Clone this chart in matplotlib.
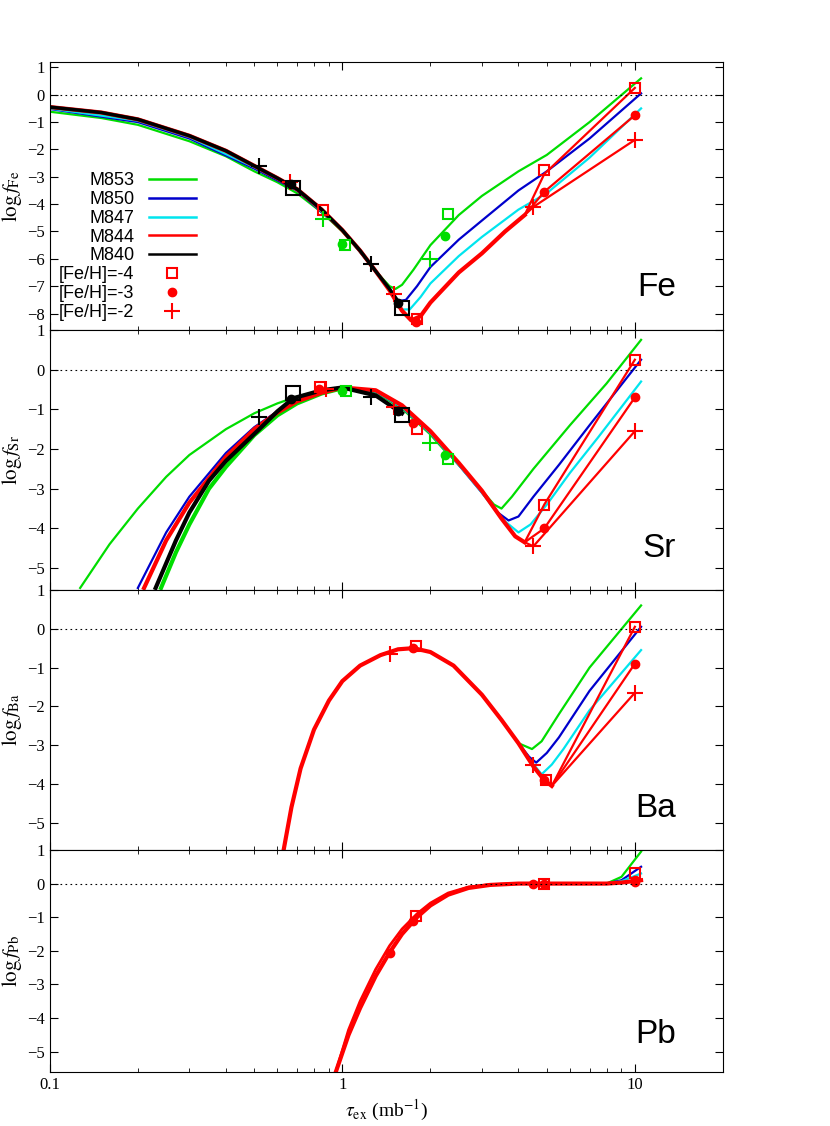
import numpy as np
import matplotlib
matplotlib.use('Agg')
import matplotlib.pyplot as plt
from matplotlib.ticker import LogLocator, FixedLocator, NullFormatter, FixedFormatter

plt.rcParams.update({'font.family': 'Liberation Serif', 'font.size': 12,
                     'mathtext.fontset': 'stix',
                     'xtick.direction': 'in', 'ytick.direction': 'in',
                     'xtick.top': True, 'ytick.right': True})

GREEN, BLUE, CYAN, RED, BLACK = '#00dd00', '#0000cc', '#00e5ee', '#ff0000', '#000000'

# ---------------- Fe ----------------
fe_black_x = [0.1, 0.15, 0.2, 0.3, 0.4, 0.5, 0.6, 0.7, 0.85, 1.0, 1.15, 1.3, 1.45, 1.55]
fe_black_y = [-0.45, -0.65, -0.9, -1.5, -2.05, -2.6, -3.05, -3.45, -4.2, -4.95, -5.7, -6.45, -7.1, -7.55]
fe_green_x = [0.1, 0.15, 0.2, 0.3, 0.4, 0.5, 0.6, 0.7, 0.85, 1.0, 1.15, 1.3, 1.45, 1.52, 1.6, 1.75, 2.0, 2.5, 3.0, 4.0, 5.0, 7.0, 10.5]
fe_green_y = [-0.62, -0.85, -1.1, -1.7, -2.25, -2.8, -3.2, -3.6, -4.3, -5.0, -5.75, -6.45, -7.0, -7.1, -6.95, -6.4, -5.5, -4.4, -3.7, -2.8, -2.2, -1.0, 0.6]
fe_blue_x = [0.1, 0.2, 0.3, 0.5, 0.7, 1.0, 1.3, 1.45, 1.55, 1.65, 1.8, 2.0, 2.5, 3.0, 4.0, 5.0, 7.0, 10.5]
fe_blue_y = [-0.52, -1.0, -1.6, -2.7, -3.5, -4.95, -6.45, -7.15, -7.55, -7.5, -7.0, -6.3, -5.3, -4.6, -3.5, -2.8, -1.6, 0.05]
fe_cyan_x = [0.1, 0.2, 0.3, 0.5, 0.7, 1.0, 1.3, 1.45, 1.6, 1.7, 1.85, 2.0, 2.5, 3.0, 4.0, 5.0, 7.0, 10.5]
fe_cyan_y = [-0.5, -0.95, -1.55, -2.65, -3.45, -4.95, -6.45, -7.15, -7.85, -7.85, -7.4, -6.9, -5.9, -5.2, -4.2, -3.6, -2.3, -0.5]
fe_red_x = [0.1, 0.15, 0.2, 0.3, 0.4, 0.5, 0.6, 0.7, 0.85, 1.0, 1.15, 1.3, 1.45, 1.6, 1.72, 1.85, 2.0, 2.5, 3.0, 3.6, 4.2]
fe_red_y = [-0.45, -0.65, -0.9, -1.5, -2.05, -2.6, -3.05, -3.45, -4.2, -4.95, -5.7, -6.45, -7.15, -7.9, -8.25, -8.1, -7.6, -6.5, -5.8, -5.0, -4.4]
fe_red_end_x = [4.9, 4.9, 4.5]
fe_red_end_y = [-2.9, -3.55, -4.1]
fe_red_last_y = [0.25, -0.75, -1.65]

# ---------------- Sr ----------------
sr_green1_x = [0.127, 0.16, 0.2, 0.25, 0.3, 0.4, 0.5, 0.6, 0.7, 0.85, 1.0, 1.3, 1.6, 2.0, 2.5, 3.0, 3.3, 3.5, 3.8, 4.5, 6.0, 8.0, 10.5]
sr_green1_y = [-5.5, -4.4, -3.5, -2.7, -2.15, -1.5, -1.1, -0.85, -0.68, -0.52, -0.45, -0.55, -0.95, -1.6, -2.4, -3.05, -3.4, -3.5, -3.2, -2.5, -1.4, -0.35, 0.75]
sr_green2_x = [0.24, 0.27, 0.3, 0.35, 0.4, 0.5, 0.6, 0.7, 0.85, 1.0, 1.3, 1.6, 2.0, 2.3]
sr_green2_y = [-5.5, -4.6, -3.9, -3.0, -2.45, -1.65, -1.15, -0.85, -0.6, -0.47, -0.55, -0.95, -1.6, -2.1]
sr_blue_x = [0.2, 0.25, 0.3, 0.4, 0.5, 0.6, 0.7, 0.85, 1.0, 1.3, 1.6, 2.0, 2.5, 3.0, 3.4, 3.7, 4.0, 4.5, 5.5, 7.0, 10.5]
sr_blue_y = [-5.5, -4.1, -3.2, -2.1, -1.45, -1.05, -0.8, -0.58, -0.45, -0.55, -0.95, -1.6, -2.4, -3.1, -3.6, -3.8, -3.7, -3.2, -2.4, -1.4, 0.25]
sr_cyan_x = [0.21, 0.25, 0.3, 0.4, 0.5, 0.6, 0.7, 0.85, 1.0, 1.3, 1.6, 2.0, 2.5, 3.0, 3.5, 4.0, 4.4, 5.0, 6.0, 7.5, 10.5]
sr_cyan_y = [-5.5, -4.3, -3.35, -2.2, -1.5, -1.08, -0.8, -0.58, -0.45, -0.55, -0.95, -1.6, -2.4, -3.1, -3.75, -4.1, -3.9, -3.4, -2.6, -1.7, -0.3]
sr_red_x = [0.21, 0.25, 0.3, 0.4, 0.5, 0.6, 0.7, 0.85, 1.0, 1.3, 1.6, 2.0, 2.5, 3.0, 3.5, 3.9, 4.2]
sr_red_y = [-5.5, -4.3, -3.35, -2.2, -1.5, -1.08, -0.8, -0.58, -0.45, -0.52, -0.9, -1.55, -2.35, -3.05, -3.75, -4.2, -4.35]
sr_red_end_x = [4.9, 4.9, 4.5]
sr_red_end_y = [-3.4, -4.0, -4.45]
sr_red_last_y = [0.25, -0.7, -1.55]
sr_black_x = [0.23, 0.27, 0.3, 0.35, 0.4, 0.52, 0.6, 0.68, 0.85, 1.0, 1.3, 1.6]
sr_black_y = [-5.5, -4.3, -3.6, -2.8, -2.3, -1.5, -1.05, -0.72, -0.52, -0.45, -0.65, -1.1]

# ---------------- Ba ----------------
ba_rise_x = [0.63, 0.67, 0.72, 0.8, 0.9, 1.0, 1.15, 1.35, 1.55, 1.75, 2.0, 2.4, 3.0, 3.5, 4.0]
ba_rise_y = [-5.7, -4.6, -3.6, -2.6, -1.85, -1.35, -0.95, -0.68, -0.53, -0.5, -0.6, -0.95, -1.7, -2.35, -2.95]
ba_green_x = [4.45, 4.8, 5.5, 7.0, 10.5]
ba_green_y = [-3.1, -2.9, -2.2, -1.0, 0.6]
ba_blue_x = [4.35, 4.6, 5.0, 5.5, 7.0, 10.5]
ba_blue_y = [-3.3, -3.45, -3.2, -2.8, -1.6, 0.05]
ba_cyan_x = [4.4, 4.8, 5.2, 5.7, 7.0, 10.5]
ba_cyan_y = [-3.4, -3.75, -3.5, -3.1, -2.1, -0.55]
ba_red_x = [4.5, 4.9, 5.2]
ba_red_y = [-3.55, -3.9, -4.05]
ba_red_last_y = [0.05, -0.9, -1.65]

# ---------------- Pb ----------------
pb_x = [0.95, 1.05, 1.15, 1.3, 1.45, 1.6, 1.8, 2.0, 2.3, 2.7, 3.2, 4.0, 6.0, 8.0]
pb_y1 = [-5.6, -4.5, -3.7, -2.75, -2.05, -1.5, -1.0, -0.65, -0.33, -0.13, -0.04, 0.0, 0.0, 0.0]
pb_y2 = [-5.6, -4.35, -3.5, -2.55, -1.85, -1.35, -0.9, -0.58, -0.28, -0.1, -0.03, 0.0, 0.0, 0.0]
pb_end_x = [9.0, 10.5]
pb_green_end = [0.2, 0.95]
pb_blue_end = [0.1, 0.5]
pb_cyan_end = [0.07, 0.3]
pb_red_end = [0.03, 0.1]

# markers: (x, y)
fe_sq_black = ([0.68, 1.6], [-3.4, -7.8]);  fe_ci_black = ([0.67, 1.55], [-3.25, -7.6]);  fe_pl_black = ([0.52, 1.25], [-2.6, -6.2])
fe_sq_red = ([0.86, 1.8, 4.9, 10], [-4.2, -8.2, -2.75, 0.25]); fe_ci_red = ([1.78, 4.9, 10], [-8.3, -3.55, -0.75]); fe_pl_red = ([0.66, 1.5, 4.5, 10], [-3.2, -7.3, -4.1, -1.65])
fe_sq_green = ([1.02, 2.3], [-5.5, -4.35]); fe_ci_green = ([1.0, 2.25], [-5.45, -5.15]); fe_pl_green = ([0.86, 2.0], [-4.55, -6.0])
sr_sq_black = ([0.68, 1.6], [-0.6, -1.15]); sr_ci_black = ([0.67, 1.55], [-0.75, -1.05]); sr_pl_black = ([0.52, 1.25], [-1.2, -0.7])
sr_sq_red = ([0.84, 1.8, 4.9, 10], [-0.45, -1.5, -3.4, 0.25]); sr_ci_red = ([0.83, 1.75, 4.9, 10], [-0.5, -1.35, -4.0, -0.7]); sr_pl_red = ([0.88, 1.5, 4.5, 10], [-0.5, -0.95, -4.45, -1.55])
sr_sq_green = ([1.03, 2.3], [-0.55, -2.25]); sr_ci_green = ([1.0, 2.25], [-0.55, -2.15]); sr_pl_green = ([2.0], [-1.85])
ba_sq_red = ([1.78, 4.95, 10], [-0.45, -3.9, 0.05]); ba_ci_red = ([1.75, 4.9, 10], [-0.5, -3.9, -0.9]); ba_pl_red = ([1.45, 4.5, 10], [-0.65, -3.5, -1.65])
pb_sq_red = ([1.78, 4.9, 10], [-0.95, 0.0, 0.3]); pb_ci_red = ([1.45, 1.75, 4.5, 4.9, 10, 10], [-2.05, -1.1, 0.0, 0.0, 0.05, 0.1])


def markers(ax, sq, ci, pl, color, big=False):
    s = 10 if big else 7
    ax.plot(*sq, ls='none', marker='s', mfc='none', mec=color, ms=s, mew=1.5, zorder=5)
    ax.plot(*ci, ls='none', marker='o', color=color, ms=6, zorder=5)
    ax.plot(*pl, ls='none', marker='+', color=color, ms=12, mew=1.5, zorder=5)


def red_branches(ax, bx, by, ex, ey, last):
    for x1, y1, yl in zip(ex, ey, last):
        ax.plot([bx[-1], x1, 10], [by[-1], y1, yl], color=RED, lw=1.6)


fig = plt.figure(figsize=(8.3, 11.26), dpi=100)
gs = fig.add_gridspec(4, 1, left=0.06, right=0.871, top=0.945, bottom=0.048,
                      hspace=0, height_ratios=[268, 260, 260, 222])
axes = [fig.add_subplot(gs[i]) for i in range(4)]

# Fe
ax = axes[0]
ax.plot(fe_green_x, fe_green_y, color=GREEN, lw=1.6, label='M853')
ax.plot(fe_blue_x, fe_blue_y, color=BLUE, lw=1.6, label='M850')
ax.plot(fe_cyan_x, fe_cyan_y, color=CYAN, lw=1.6, label='M847')
ax.plot(fe_red_x, fe_red_y, color=RED, lw=3, label='M844')
red_branches(ax, fe_red_x, fe_red_y, fe_red_end_x, fe_red_end_y, fe_red_last_y)
ax.plot(fe_black_x, fe_black_y, color=BLACK, lw=2.5, label='M840')
ax.plot(*fe_sq_red, ls='none', marker='s', mfc='none', mec=RED, ms=7, mew=1.5, label='[Fe/H]=-4')
ax.plot(*fe_ci_red, ls='none', marker='o', color=RED, ms=6, label='[Fe/H]=-3')
ax.plot(*fe_pl_red, ls='none', marker='+', color=RED, ms=12, mew=1.5, label='[Fe/H]=-2')
markers(ax, fe_sq_green, fe_ci_green, fe_pl_green, GREEN)
markers(ax, fe_sq_black, fe_ci_black, fe_pl_black, BLACK, big=True)
leg = ax.legend(loc='lower left', markerfirst=False, frameon=False, handlelength=2.6,
                labelspacing=0.1, borderaxespad=0.1, prop={'family': 'Liberation Sans', 'size': 13})
for h in leg.legend_handles[:5]:
    h.set_linewidth(1.8)

# Sr
ax = axes[1]
ax.plot(sr_green1_x, sr_green1_y, color=GREEN, lw=1.6)
ax.plot(sr_green2_x, sr_green2_y, color=GREEN, lw=3)
ax.plot(sr_blue_x, sr_blue_y, color=BLUE, lw=1.6)
ax.plot(sr_cyan_x, sr_cyan_y, color=CYAN, lw=1.6)
ax.plot(sr_red_x, sr_red_y, color=RED, lw=3)
red_branches(ax, sr_red_x, sr_red_y, sr_red_end_x, sr_red_end_y, sr_red_last_y)
ax.plot(sr_black_x, sr_black_y, color=BLACK, lw=3)
markers(ax, sr_sq_red, sr_ci_red, sr_pl_red, RED)
markers(ax, sr_sq_green, sr_ci_green, sr_pl_green, GREEN)
markers(ax, sr_sq_black, sr_ci_black, sr_pl_black, BLACK, big=True)

# Ba
ax = axes[2]
ax.plot(ba_rise_x + ba_green_x, ba_rise_y + ba_green_y, color=GREEN, lw=1.6)
ax.plot(ba_rise_x + ba_blue_x, ba_rise_y + ba_blue_y, color=BLUE, lw=1.6)
ax.plot(ba_rise_x + ba_cyan_x, ba_rise_y + ba_cyan_y, color=CYAN, lw=1.6)
ax.plot(ba_rise_x + ba_red_x, ba_rise_y + ba_red_y, color=RED, lw=3)
for yl in ba_red_last_y:
    ax.plot([ba_red_x[-1], 10], [ba_red_y[-1], yl], color=RED, lw=1.6)
markers(ax, ba_sq_red, ba_ci_red, ba_pl_red, RED)

# Pb
ax = axes[3]
ax.plot(pb_x + pb_end_x, pb_y1 + pb_green_end, color=GREEN, lw=1.6)
ax.plot(pb_x + pb_end_x, pb_y1 + pb_blue_end, color=BLUE, lw=1.6)
ax.plot(pb_x + pb_end_x, pb_y1 + pb_cyan_end, color=CYAN, lw=1.6)
ax.plot(pb_x + pb_end_x, pb_y1 + pb_red_end, color=RED, lw=3)
ax.plot(pb_x, pb_y2, color=RED, lw=2)
ax.plot(*pb_sq_red, ls='none', marker='s', mfc='none', mec=RED, ms=7, mew=1.5)
ax.plot(*pb_ci_red, ls='none', marker='o', color=RED, ms=6)

names = ['Fe', 'Sr', 'Ba', 'Pb']
ylims = [(-8.6, 1.2), (-5.55, 1), (-5.7, 1), (-5.6, 1)]
for ax, name, yl in zip(axes, names, ylims):
    ax.set_xscale('log')
    ax.set_xlim(0.1, 20)
    ax.set_ylim(*yl)
    ax.axhline(0, color='black', ls=(0, (1.5, 3)), lw=0.8)
    lo = int(np.ceil(yl[0]))
    ax.yaxis.set_major_locator(FixedLocator(range(lo, 2)))
    ax.set_ylabel(r'$\mathrm{log}\,f_{\mathrm{%s}}$' % name, fontsize=15, labelpad=2)
    ax.text(0.93, 0.1, name, transform=ax.transAxes, ha='right', va='bottom',
            family='Liberation Sans', fontsize=24)
    ax.xaxis.set_minor_locator(LogLocator(subs=np.arange(2, 10)))
    ax.xaxis.set_minor_formatter(NullFormatter())
    ax.tick_params(which='major', length=6)
    ax.tick_params(which='minor', length=3)
    if ax is not axes[-1]:
        ax.tick_params(labelbottom=False)
axes[-1].xaxis.set_major_locator(FixedLocator([0.1, 1, 10]))
axes[-1].xaxis.set_major_formatter(FixedFormatter(['0.1', '1', '10']))
axes[-1].set_xlabel(r'$\tau_{\mathrm{ex}}$ (mb$^{-1}$)', fontsize=14)

fig.savefig('out.png')
